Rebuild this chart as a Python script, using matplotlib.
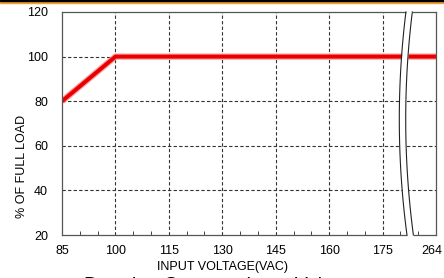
import matplotlib
matplotlib.use("Agg")
import matplotlib.pyplot as plt
import numpy as np
from matplotlib.patches import Rectangle

plt.rcParams['font.family'] = ['Liberation Sans', 'DejaVu Sans']

# data
volt_x = [85, 100, 190]          # 190 = right edge of the broken axis (264 VAC)
load_y = [80, 100, 100]
x_ticks = [85, 100, 115, 130, 145, 160, 175, 188.8]
x_tick_labels = ['85', '100', '115', '130', '145', '160', '175', '264']
grid_x = [100, 115, 130, 145, 160, 175]
y_ticks = [20, 40, 60, 80, 100, 120]

W, H = 444, 278
fig = plt.figure(figsize=(W / 100, H / 100), dpi=100)
ax = fig.add_axes([62 / W, 1 - 235 / H, (436 - 62) / W, (235 - 12) / H])

ax.set_xlim(85, 190)
ax.set_ylim(20, 120)
ax.set_xticks(x_ticks)
ax.set_xticklabels(x_tick_labels)
ax.set_yticks(y_ticks)
ax.set_xticks(np.arange(85, 191, 5), minor=True)
ax.tick_params(axis='x', which='major', direction='in', length=0, pad=7, labelsize=9)
ax.tick_params(axis='x', which='minor', direction='in', length=3, width=0.7, color='#444')
ax.tick_params(axis='y', which='major', length=0, pad=10, labelsize=9)

for s in ax.spines.values():
    s.set_color('#555')
    s.set_linewidth(0.9)

# grid
for xv in grid_x:
    ax.axvline(xv, color='#333', lw=0.8, ls=(0, (3, 2)), zorder=1)
for yv in y_ticks[1:-1]:
    ax.axhline(yv, color='#333', lw=0.8, ls=(0, (3, 2)), zorder=1)

# curve
ax.plot(volt_x, load_y, color='#ff8080', lw=4.5, zorder=2, solid_capstyle='butt', alpha=0.8)
ax.plot(volt_x, load_y, color='#e80000', lw=2.8, zorder=2.2, solid_capstyle='butt')

# axis break
yy = np.linspace(20, 120, 100)
t = (yy - 70) / 50.0
x1 = 179.7 + 2.0 * t ** 2 - 0.15 * t
x2 = x1 + 1.8
yy_f = np.linspace(19.3, 120.7, 100)
tf = (yy_f - 70) / 50.0
xf1 = 179.7 + 2.0 * tf ** 2 - 0.15 * tf
ax.fill_betweenx(yy_f, xf1, xf1 + 1.8, color='white', zorder=4, clip_on=False, lw=0)
ax.plot(x1, yy, color='#222', lw=0.8, zorder=5, clip_on=False)
ax.plot(x2, yy, color='#222', lw=0.8, zorder=5, clip_on=False)

# labels
fig.text(22 / W, 1 - 166 / H, '% OF FULL LOAD', rotation=90, ha='center', va='center', fontsize=9)
fig.text(222 / W, 1 - 267 / H, 'INPUT VOLTAGE(VAC)', ha='center', va='center', fontsize=9)
fig.text(222 / W, 1 - 289.5 / H, 'Derating Curve vs Input Voltage', ha='center', va='baseline',
         fontsize=14)

# top border
fig.patches.append(Rectangle((0, 1 - 3 / H), 1, 3 / H, transform=fig.transFigure,
                             color='#f0a030', zorder=10))
fig.patches.append(Rectangle((0, 1 - 1 / H), 1, 1 / H, transform=fig.transFigure,
                             color='black', zorder=11))

fig.savefig('out.png', dpi=100)
